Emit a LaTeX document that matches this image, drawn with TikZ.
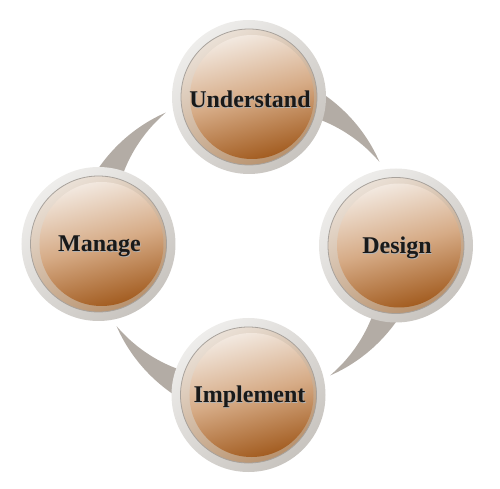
\documentclass[tikz,border=0pt]{standalone}
\usepackage{fontspec}
\setmainfont{Liberation Serif}
\definecolor{crescentgray}{HTML}{B3ACA5}
\definecolor{ringlight}{HTML}{EEEDEB}
\definecolor{ringdark}{HTML}{C8C4BF}
\definecolor{ringedgecol}{HTML}{A8A29C}
\definecolor{bevellight}{HTML}{EAE0D6}
\definecolor{beveldark}{HTML}{B8926E}
\definecolor{disktop}{HTML}{F2E8DF}
\definecolor{diskmid}{HTML}{D6AB86}
\definecolor{diskbot}{HTML}{A35D21}
\tikzset{
  crescent/.style={fill=crescentgray},
  ringshade/.style={top color=ringlight, bottom color=ringdark, shading angle=40},
  bevelshade/.style={top color=bevellight, bottom color=beveldark, shading angle=30, draw=ringedgecol, line width=0.8pt},
  diskshade/.style={top color=disktop, bottom color=diskbot, middle color=diskmid, shading angle=15},
  phaselabel/.style={font=\fontsize{24}{24}\selectfont\bfseries, text=black!90, inner sep=0pt},
  phaseshadow/.style={font=\fontsize{24}{24}\selectfont\bfseries, text=black!30, inner sep=0pt},
  phasering/.style={circle, minimum size=154pt, inner sep=0pt}
}
\newcommand\phasecirc[4]{%
  \node[phasering] (#1) at (#2,#3) {};
  \shade[ringshade] (#1.center) circle (77pt);
  \shade[bevelshade] (#1.center) circle (68pt);
  \shade[diskshade] ([xshift=3pt]#1.center) circle (62pt);
  \node[phaseshadow] at ([xshift=1.8pt,yshift=-3.2pt]#1.center) {#4};
  \node[phaselabel] (#1-text) at ([xshift=1pt,yshift=-2pt]#1.center) {#4};
}
\begin{document}
\begin{tikzpicture}[x=1pt,y=1pt]
\useasboundingbox (-248,-245) rectangle (252,244);
\coordinate (ctr) at (0,0);
\foreach \r in {0,-90,-180,-270}{
  \fill[crescent] plot[domain=32:76,samples=40] ({\x+\r}:{155+11*(\x-32)/27})
     -- plot[domain=76:32,samples=40] ({\x+\r}:{155-11*(\x-32)/27}) -- cycle;
}
\phasecirc{u}{1}{147}{Understand}
\phasecirc{d}{148}{-1.5}{Design}
\phasecirc{i}{0.5}{-151}{Implement}
\phasecirc{m}{-149.5}{0}{Manage}
\end{tikzpicture}
\end{document}
